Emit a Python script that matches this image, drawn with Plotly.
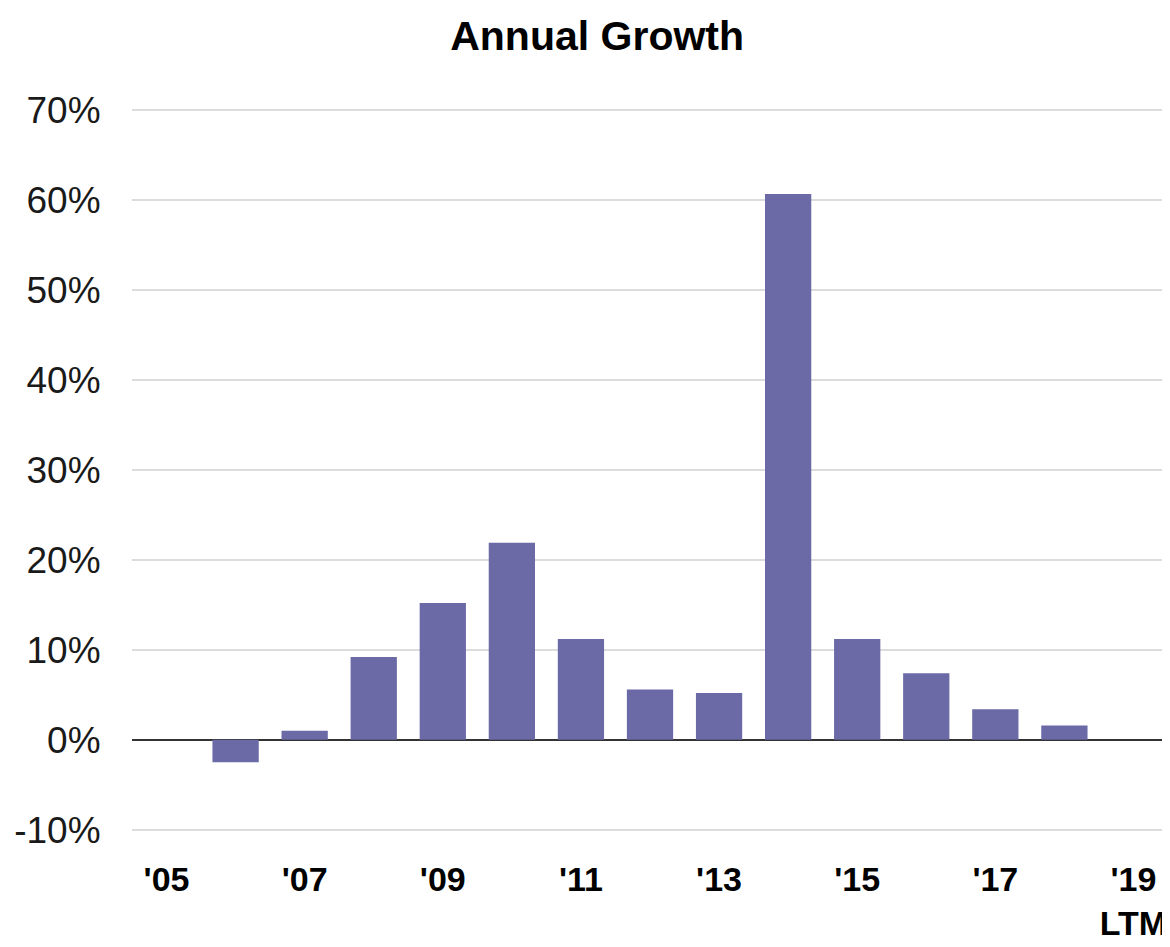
import plotly.graph_objects as go

categories = ["'05", "'06", "'07", "'08", "'09", "'10", "'11", "'12", "'13",
              "'14", "'15", "'16", "'17", "'18", "'19 LTM"]
growth = [None, -0.025, 0.010, 0.092, 0.152, 0.219, 0.112, 0.056, 0.052,
          0.607, 0.112, 0.074, 0.034, 0.016, None]

x_tick_vals = ["'05", "'07", "'09", "'11", "'13", "'15", "'17", "'19 LTM"]
x_tick_text = ["'05", "'07", "'09", "'11", "'13", "'15", "'17", "'19<br>LTM"]
y_tick_vals = [-0.1, 0.0, 0.1, 0.2, 0.3, 0.4, 0.5, 0.6, 0.7]
y_tick_text = [f"{round(v * 100)}%" for v in y_tick_vals]

FONT = "Liberation Sans, Arial, sans-serif"

fig = go.Figure(go.Bar(
    x=categories, y=growth,
    marker=dict(color="#6b6aa6", line=dict(width=0)),
))

# page body has an 8px default margin, so the figure is sized to fit the window
fig.update_layout(
    width=1162, height=939,
    paper_bgcolor="white", plot_bgcolor="white",
    margin=dict(l=124, r=2, t=100, b=115, autoexpand=False),
    bargap=0.33,
    showlegend=False,
    title=dict(text="<b>Annual Growth</b>", x=0.507, xanchor="center",
               y=1 - 28 / 939, yanchor="middle", yref="container",
               font=dict(family=FONT, size=41, color="#000000")),
    xaxis=dict(type="category", categoryorder="array", categoryarray=categories,
               range=[-0.5, 14.5], tickmode="array", tickvals=x_tick_vals,
               ticktext=x_tick_text, showgrid=False, showline=False, zeroline=False,
               automargin=False,
               ticks="outside", ticklen=17, tickcolor="rgba(0,0,0,0)",
               tickfont=dict(family=FONT, size=34, color="#000000", weight="bold")),
    yaxis=dict(range=[-0.1025, 0.7025], tickmode="array", tickvals=y_tick_vals,
               ticktext=y_tick_text, showgrid=True, gridcolor="#dcdcdc", gridwidth=2,
               zeroline=True, zerolinecolor="#333333", zerolinewidth=2,
               showline=False, automargin=False,
               ticks="outside", ticklen=23, tickcolor="rgba(0,0,0,0)",
               tickfont=dict(family=FONT, size=37, color="#1a1a1a")),
)

fig.write_html("out.html")
